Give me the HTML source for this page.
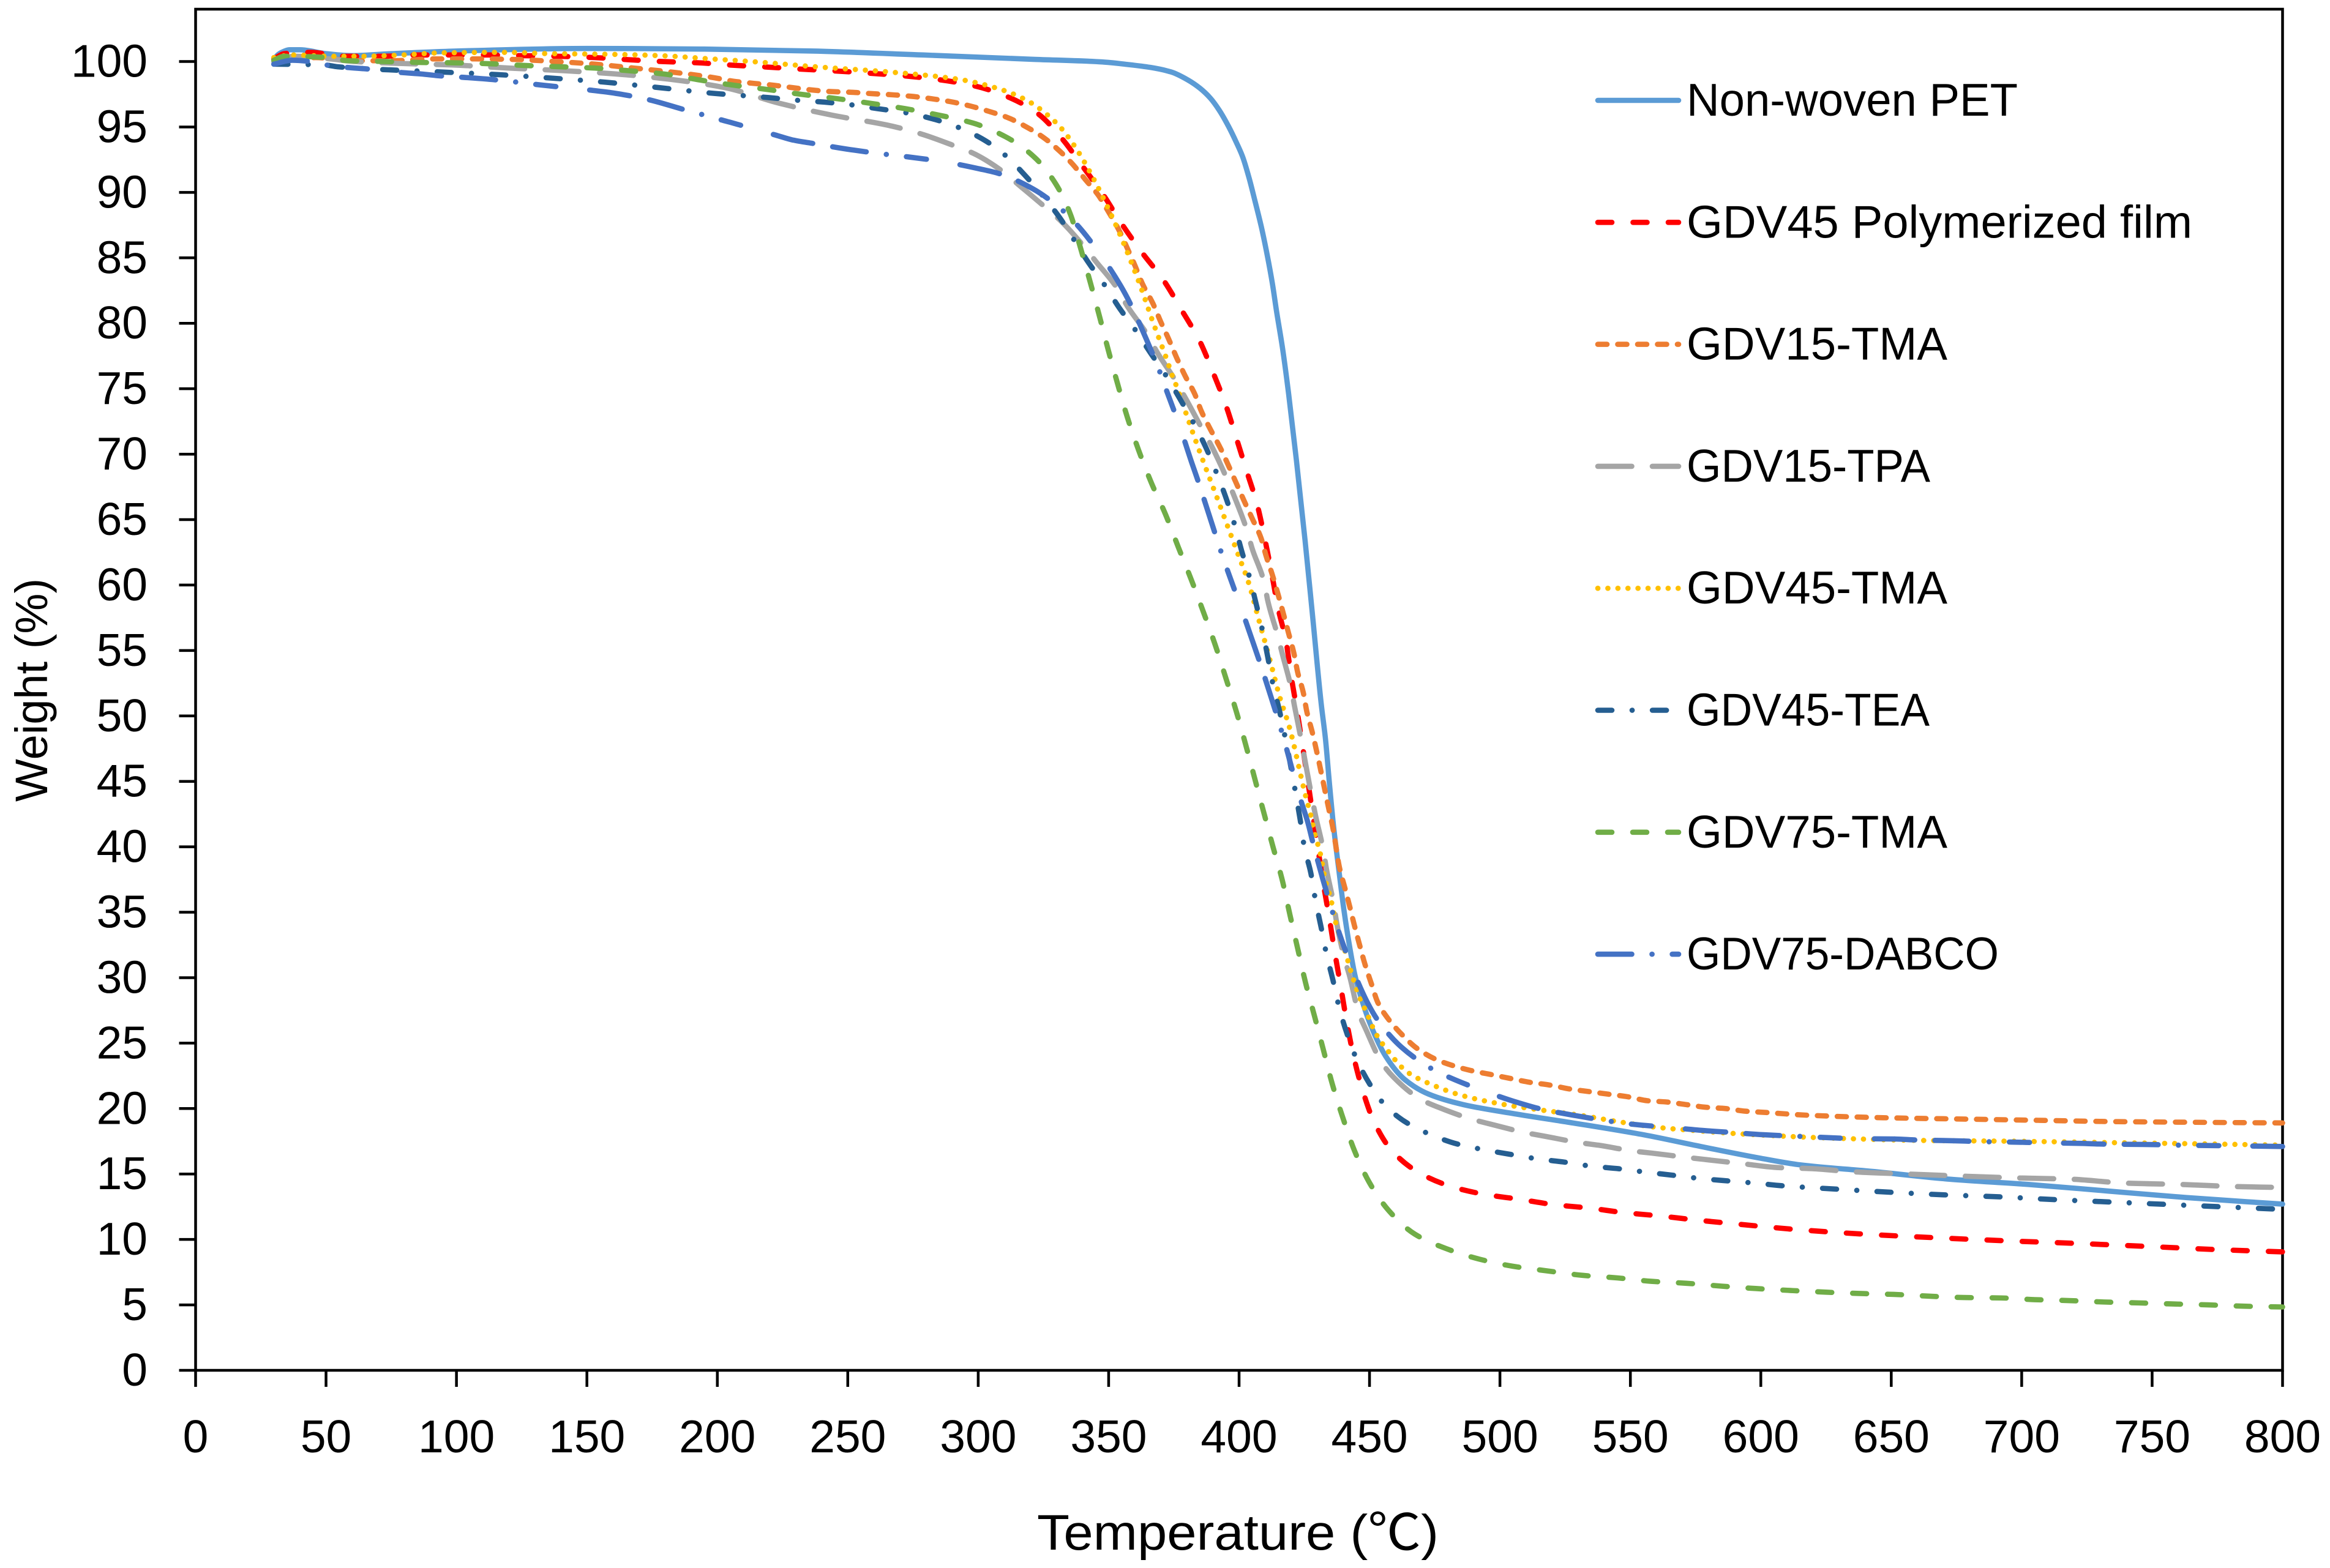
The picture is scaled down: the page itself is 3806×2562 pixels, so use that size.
<!DOCTYPE html>
<html lang="en">
<head>
<meta charset="utf-8">
<title>TGA weight loss curves</title>
<style>
html,body{margin:0;padding:0;background:#fff;}
body{width:3806px;height:2562px;overflow:hidden;}
svg{display:block;}
text{font-family:"Liberation Sans","Noto Sans CJK JP",sans-serif;fill:#000;}
</style>
</head>
<body>
<svg id="chart" xmlns="http://www.w3.org/2000/svg" width="3806" height="2562" viewBox="0 0 3806 2562">
  <rect x="0" y="0" width="3806" height="2562" fill="#fff"/>
  <rect x="319.5" y="15" width="3409" height="2224" fill="none" stroke="#000" stroke-width="4.5"/>
  <g id="ticks"></g>
  <g id="series"></g>
  <text transform="translate(77,1310) rotate(-90)" font-size="74" textLength="365" lengthAdjust="spacingAndGlyphs">Weight (%)</text>
  <text x="1694" y="2532" font-size="82" textLength="656" lengthAdjust="spacingAndGlyphs">Temperature (℃)</text>
  <g id="legend"></g>
</svg>
<script>
// ---- axis ticks ----
const xTickLabels = [0,50,100,150,200,250,300,350,400,450,500,550,600,650,700,750,800];
const yTickLabels = [0,5,10,15,20,25,30,35,40,45,50,55,60,65,70,75,80,85,90,95,100];
const xDomain = [0,800];
const yDomain = [0,104];

// ---- series names ----
const seriesNames = ["Non-woven PET","GDV45 Polymerized film","GDV15-TMA","GDV15-TPA","GDV45-TMA","GDV45-TEA","GDV75-TMA","GDV75-DABCO"];

// ---- Non-woven PET ----
const petTemp = [30,31,33,36,40,50,60,75,100,150,
195,237,279,321,347.5,357,366,374,380.3,385,
389,392.4,396,399,401.4,403.8,406,408.5,410.8,412.8,
414.3,416.7,419,422,425.3,428,431.5,433.1,434.7,436.2,
438.2,440.1,442.1,444.4,446,450.2,456.2,463.6,472.7,486,
505.6,528,555,577,600,615,642.5,672.6,702.6,733,
763,800];
const petWeight = [100,100.4,100.7,100.9,100.9,100.6,100.45,100.6,100.8,101,
100.95,100.8,100.5,100.17,99.97,99.78,99.55,99.2,98.6,97.96,
97.2,96.28,95.03,93.8,92.7,91.13,89.42,87.4,85.2,83,
81,78.04,74.6,69.5,63.4,58,50.9,48.27,44.7,41.6,
38.3,35.3,32.7,30.2,29,26.5,24,22.2,21.1,20.3,
19.6,18.9,18,17.1,16.2,15.7,15.2,14.6,14.2,13.7,
13.2,12.7];

// ---- GDV45 Polymerized film ----
const filmTemp = [30,34,44,57,71,85,98,112,125,139,
153,166,179,193,205,219,232,246,259,272,
285.5,298.6,311,323,332,340,348,355,363,371,
378,385,390,395,399,403,407,410,412.4,415,
418,420,422.3,427.8,432.3,434.5,436.8,439,441.2,443.9,
447.2,451.7,458.5,469,482,494,508,521,534,547.5,
561,574.5,587,600,614,640,667,693.5,720.6,747.7,
774,800];
const filmWeight = [100.2,100.6,100.7,100.4,100.4,100.5,100.5,100.5,100.45,100.4,
100.3,100.14,100,99.9,99.73,99.58,99.42,99.27,99.1,98.9,
98.6,98.14,97.33,96,94.14,92,89.8,87.6,85.35,83.3,
81,78.6,76.25,73.7,71.2,68.65,66.1,63.4,61,58.2,
55.7,53,50.3,43.1,37.2,34.65,31.8,29.3,26.7,24,
21.5,19,16.8,15.1,14,13.45,13.05,12.65,12.4,12.05,
11.8,11.5,11.25,11,10.75,10.4,10.13,9.9,9.7,9.47,
9.23,9.05];

// ---- GDV15-TMA ----
const g15tmaTemp = [30,46,61,75,92,107,122,138,153,168,
184,198.6,206,214,221,229,236,244,251.5,259,
267,274,282,289.5,297,304,311.5,318.5,325,331,
336,341,346,350,354,357,360,363,367,370,
373,376,379.4,383,385.5,389,393,396,399,402,
405,408.4,410.4,412.8,415,417,419,421,422.5,424.6,
426,428,434.5,436,438.5,440.5,442.4,444.2,446.2,448.3,
450.7,453.2,457,462.2,468.2,475,481.7,489,496.6,504,
511.6,519,526.6,534,541.5,549,556.5,564,571.5,579,
586.5,594,602,617,647,677,707,737,767,800];
const g15tmaWeight = [100,100.3,100.06,100.06,100.2,100.2,100.16,100,99.8,99.5,
99.16,98.77,98.5,98.33,98.2,98,97.83,97.7,97.65,97.55,
97.46,97.35,97.16,96.93,96.6,96.2,95.7,95,94.2,93.2,
92.2,91,89.8,88.5,87.1,85.8,84.45,83,81.5,80.1,
78.8,77.4,75.95,74.6,73.3,71.9,70.4,69.1,67.75,66.4,
65.1,63.6,62.2,60.75,59.25,57.8,56.3,54.8,53.3,51.8,
50.3,48.8,42.8,41.4,38.4,36.9,35.45,34,32.5,31,
29.55,28.1,26.9,25.7,24.6,23.8,23.3,22.9,22.6,22.3,
22,21.8,21.5,21.3,21.1,20.9,20.6,20.5,20.3,20.1,
20,19.8,19.7,19.5,19.3,19.2,19.1,19,18.95,18.9];

// ---- GDV15-TPA ----
const g15tpaTemp = [30,38,51.5,61,79,98,120,141,161,182,
203,224,244,265,278.4,291,298,309.4,315.4,325.5,
332.3,340.4,345,353.2,357.2,364.6,368.7,376,379.4,386.2,
389.5,395.6,398.3,403,405,409.7,411,415,416.5,420,
421.2,423.2,427.8,429.3,432.3,433.5,436.3,437.5,440.5,442.4,
445.7,448.7,454.4,459.2,469.7,476.4,489,496.6,510,516.8,
530.3,537.8,551.3,558,571.5,579,592.5,606,620.5,635,
656,677,698,719,740,761,782,800];
const g15tpaWeight = [100,100.4,100.2,100,99.85,99.74,99.5,99.3,99.05,98.64,
98,96.8,95.9,95.15,94.45,93.55,93,91.6,90.6,88.9,
87.7,85.9,84.75,82.7,81.3,79.2,77.75,75.5,74.3,71.8,
70.6,68,66.7,64.2,62.8,60.15,58.8,56,54.8,52.1,
50.8,48.8,43.9,42.4,39.75,38.3,35.6,34.1,31.4,30.1,
27.4,26,23.6,22.4,20.7,20.1,19.2,18.8,18.15,17.9,
17.4,17.2,16.75,16.6,16.27,16.1,15.8,15.5,15.4,15.17,
15,14.84,14.7,14.6,14.3,14.2,14.04,13.97];

// ---- GDV45-TMA ----
const g45tmaTemp = [30,37,52.5,64,79,94,118,136,156,178,
197.5,213,239,266,292.6,307.5,318,330,335,339.3,
343,346.4,349.8,353,356,358.8,361.7,364.2,366.6,369.3,
372,374.4,376,379.7,383.5,387.5,391.6,395.6,399.7,403.7,
407.7,411.8,415.8,419.2,425.5,427.5,429,431,433,435.3,
436.8,439,440.5,442.7,446.2,448.7,452.5,456.7,464.4,474.2,
485.4,500.4,515.3,530.3,545.3,561,576,591,626,663,
698,733,770,800];
const g45tmaWeight = [100.3,100.5,100.4,100.4,100.5,100.66,100.7,100.6,100.56,100.45,
100.2,100,99.58,99.2,98.64,97.94,97.1,95.3,94.1,92.8,
91.5,90.2,88.8,87.4,86,84.6,83.1,81.7,80.3,78.85,
77.4,76,75.2,73.1,70.95,68.8,66.65,64.5,62.3,60.15,
57.25,54.3,51.3,49.2,43.9,42.4,41,39.6,37.5,35.9,
34.4,32.9,32.1,30.6,28.5,27.4,25.7,24.5,22.8,21.8,
21,20.35,19.9,19.5,19,18.55,18.3,18.08,17.75,17.56,
17.5,17.4,17.3,17.2];

// ---- GDV45-TEA ----
const g45teaTemp = [30,49.5,54.4,94.3,116,136,156.6,178,198.5,220,
230,241,251,261.4,272,282,292,301.5,310,317.5,
330.6,342.4,348.2,354,360.2,366,372,377.4,382.5,387.3,
391.3,395,398.3,401,404,406.5,409,411,413,415.6,
423.4,425,427.5,429.3,431.4,433.5,436,438.4,441.4,445,
450,456.2,464.4,473.6,483.5,494,504,514.6,525,535,
545.7,556,566.5,577,587.5,598,608.4,629.4,650.3,671.2,
692,713,734,755,776,800];
const g45teaWeight = [99.8,99.74,99.6,99.2,99,98.74,98.43,98,97.57,97.24,
97.05,96.9,96.7,96.4,96.1,95.65,95,94.1,92.9,91.4,
88.25,84.6,83,81.2,79.5,77.75,76,74.2,72.4,70.5,
68.6,66.65,64.6,62.6,60.6,58.6,56.5,54.5,52.4,50.3,
42.1,40,38,35.9,33.9,31.8,29.8,27.7,25.7,23.8,
21.9,20.2,18.9,18,17.3,16.85,16.5,16.15,15.9,15.6,
15.4,15.14,14.9,14.65,14.47,14.3,14.1,13.84,13.6,13.4,
13.25,13.04,12.86,12.68,12.5,12.3];

// ---- GDV75-TMA ----
const g75tmaTemp = [30,34,46.6,59,73,86.5,100,113,126,140,
153,166,179.5,193,206,219,232,246,259,272,
285,298,310.5,321.5,329.7,335.4,339.3,343,346.4,349.8,
353.4,357.2,361.5,366.4,371.8,376.7,381.6,386.4,390.9,395,
399,409.5,413,416.5,419.5,422.5,425.5,429,432.3,435.7,
439.7,444.2,449.8,457.4,467.4,479.4,492,505,518,532,
545,558,571.5,585,598,611.5,625,638,651,665,
678,692,705,718,731.5,745,758,771.5,785,800];
const g75tmaWeight = [100.1,100.4,100.35,100.06,100,99.93,99.9,99.83,99.7,99.6,
99.5,99.3,99.05,98.6,98.2,97.87,97.5,97.16,96.8,96.4,
95.9,95.3,94.25,92.7,90.66,88.3,85.7,83.1,80.6,78,
75.4,72.8,70.3,67.8,65.4,62.9,60.45,57.9,55.4,52.85,
50.3,42.6,40,37.5,34.8,32.2,29.6,27,24.5,21.9,
19.35,16.8,14.4,12.2,10.4,9.3,8.5,7.95,7.6,7.25,
7.06,6.8,6.65,6.43,6.25,6.1,5.97,5.87,5.8,5.66,
5.56,5.53,5.4,5.33,5.22,5.15,5.07,5,4.9,4.84];

// ---- GDV75-DABCO ----
const g75dabcoTemp = [30,37,44,50,58,66,79,86.5,94,102,
115,123,130,137.5,152,159,166,174,187,194,
201,209,215,222,229,237,251,265,272,286.5,
300.5,308,321,332.5,338,347,354.5,358.3,364.2,369.6,
372.3,377.3,381.6,384.2,388.6,393,395.6,400.5,405.2,407.6,
412,416.2,423.6,426.3,428.2,432,436,438.4,443.3,449.2,
453,462.2,474.2,481,494.4,507.8,515,529.3,543.3,551,
565.5,579.5,587,601,615.5,623,637.5,652,659.6,674,
688,696,710,724.5,732,746.5,761,768.5,783,800];
const g75dabcoWeight = [99.8,100.1,100,99.74,99.55,99.43,99.16,99.05,98.9,98.8,
98.6,98.43,98.26,98.1,97.8,97.63,97.4,97.07,96.34,95.96,
95.57,95.13,94.76,94.4,94,93.73,93.27,92.9,92.74,92.35,
91.8,91.44,90.27,88.6,87.5,85.2,82.9,81.5,78.9,76.3,
74.8,72.1,69.5,68,65.3,62.6,61.1,58.4,55.7,54.3,
51.6,48.9,43.6,41.9,40.4,37.6,34.9,33.4,30.76,28.1,
26.8,24.7,23,22.35,21.3,20.4,20,19.45,19,18.8,
18.55,18.3,18.2,18,17.87,17.8,17.7,17.67,17.6,17.54,
17.46,17.44,17.38,17.33,17.28,17.26,17.2,17.18,17.15,17.1];

const allTemps = [petTemp,filmTemp,g15tmaTemp,g15tpaTemp,g45tmaTemp,g45teaTemp,g75tmaTemp,g75dabcoTemp];
const allWeights = [petWeight,filmWeight,g15tmaWeight,g15tpaWeight,g45tmaWeight,g45teaWeight,g75tmaWeight,g75dabcoWeight];

// ---- presentation (kept apart from the data) ----
const plot = {left:319.5,right:3728.5,top:15,bottom:2239};
const seriesColors = ["#5B9BD5","#FF0000","#ED7D31","#A5A5A5","#FFC000","#255E91","#70AD47","#4472C4"];
const seriesDashes = ["","23 34.5","15 17.5","55.5 33.5","0.1 16.3","23 33 0.1 33","23 34","55.5 33 0.1 33 33"];
const legendTextWidths = [541,826,426,398,426,397,426,510];
const lineWidth = 8.6;

const NS = "http://www.w3.org/2000/svg";
const xScale = t => plot.left + (t - xDomain[0]) / (xDomain[1] - xDomain[0]) * (plot.right - plot.left);
const yScale = v => plot.bottom - (v - yDomain[0]) / (yDomain[1] - yDomain[0]) * (plot.bottom - plot.top);

function slug(s){ return s.toLowerCase().replace(/[^a-z0-9]+/g,'-'); }

// Monotone cubic interpolation path (Fritsch-Carlson) in pixel space
function curvePath(ts, ws){
  const n = Math.min(ts.length, ws.length);
  const xs = [], ys = [];
  for(let i=0;i<n;i++){ xs.push(xScale(ts[i])); ys.push(yScale(ws[i])); }
  const d = [], h = [], m = new Array(n).fill(0);
  for(let i=0;i<n-1;i++){ h[i]=xs[i+1]-xs[i]; d[i]=(ys[i+1]-ys[i])/h[i]; }
  m[0]=d[0]; m[n-1]=d[n-2];
  for(let i=1;i<n-1;i++){
    if(d[i-1]*d[i]<=0){ m[i]=0; }
    else{
      const w1=2*h[i]+h[i-1], w2=h[i]+2*h[i-1];
      m[i]=(w1+w2)/(w1/d[i-1]+w2/d[i]);
    }
  }
  let p = "M"+xs[0].toFixed(2)+" "+ys[0].toFixed(2);
  for(let i=0;i<n-1;i++){
    const c1x=xs[i]+h[i]/3, c1y=ys[i]+m[i]*h[i]/3;
    const c2x=xs[i+1]-h[i]/3, c2y=ys[i+1]-m[i+1]*h[i]/3;
    p+="C"+c1x.toFixed(2)+" "+c1y.toFixed(2)+" "+c2x.toFixed(2)+" "+c2y.toFixed(2)+" "+xs[i+1].toFixed(2)+" "+ys[i+1].toFixed(2);
  }
  return p;
}

const tickGroup = document.getElementById('ticks');
xTickLabels.forEach(function(v){
  const line = document.createElementNS(NS,'line');
  
  
  line.setAttribute('x1', xScale(v)); line.setAttribute('x2', xScale(v));
  line.setAttribute('y1', plot.bottom); line.setAttribute('y2', plot.bottom + 27);
  line.setAttribute('stroke', '#000'); line.setAttribute('stroke-width', '4.5');
  tickGroup.appendChild(line);
  const label = document.createElementNS(NS,'text');
  
  
  label.setAttribute('x', xScale(v)); label.setAttribute('y', 2373);
  label.setAttribute('font-size', '75'); label.setAttribute('text-anchor', 'middle');
  label.textContent = v;
  tickGroup.appendChild(label);
});
yTickLabels.forEach(function(v){
  const line = document.createElementNS(NS,'line');
  
  
  line.setAttribute('x1', plot.left - 27); line.setAttribute('x2', plot.left);
  line.setAttribute('y1', yScale(v)); line.setAttribute('y2', yScale(v));
  line.setAttribute('stroke', '#000'); line.setAttribute('stroke-width', '4.5');
  tickGroup.appendChild(line);
  const label = document.createElementNS(NS,'text');
  
  
  label.setAttribute('x', 241); label.setAttribute('y', yScale(v) + 25);
  label.setAttribute('font-size', '75'); label.setAttribute('text-anchor', 'end');
  label.textContent = v;
  tickGroup.appendChild(label);
});

const seriesGroup = document.getElementById('series');
const legendGroup = document.getElementById('legend');
seriesNames.forEach(function(name,i){
  const path = document.createElementNS(NS,'path');
  
  
  path.setAttribute('d', curvePath(allTemps[i], allWeights[i]));
  path.setAttribute('fill', 'none');
  path.setAttribute('stroke', seriesColors[i]);
  path.setAttribute('stroke-width', lineWidth);
  path.setAttribute('stroke-linecap', 'round');
  path.setAttribute('stroke-linejoin', 'round');
  if(seriesDashes[i]) path.setAttribute('stroke-dasharray', seriesDashes[i]);
  seriesGroup.appendChild(path);

  const legendY = 164 + i * 199.3;
  const swatch = document.createElementNS(NS,'line');
  
  
  swatch.setAttribute('x1', 2610); swatch.setAttribute('x2', 2742);
  swatch.setAttribute('y1', legendY); swatch.setAttribute('y2', legendY);
  swatch.setAttribute('stroke', seriesColors[i]);
  swatch.setAttribute('stroke-width', lineWidth);
  swatch.setAttribute('stroke-linecap', 'round');
  if(seriesDashes[i]) swatch.setAttribute('stroke-dasharray', seriesDashes[i]);
  legendGroup.appendChild(swatch);

  const label = document.createElementNS(NS,'text');
  
  
  label.setAttribute('x', 2755); label.setAttribute('y', legendY + 25);
  label.setAttribute('font-size', '75');
  label.setAttribute('textLength', legendTextWidths[i]);
  label.setAttribute('lengthAdjust', 'spacingAndGlyphs');
  label.textContent = name;
  legendGroup.appendChild(label);
});
</script>
</body>
</html>
